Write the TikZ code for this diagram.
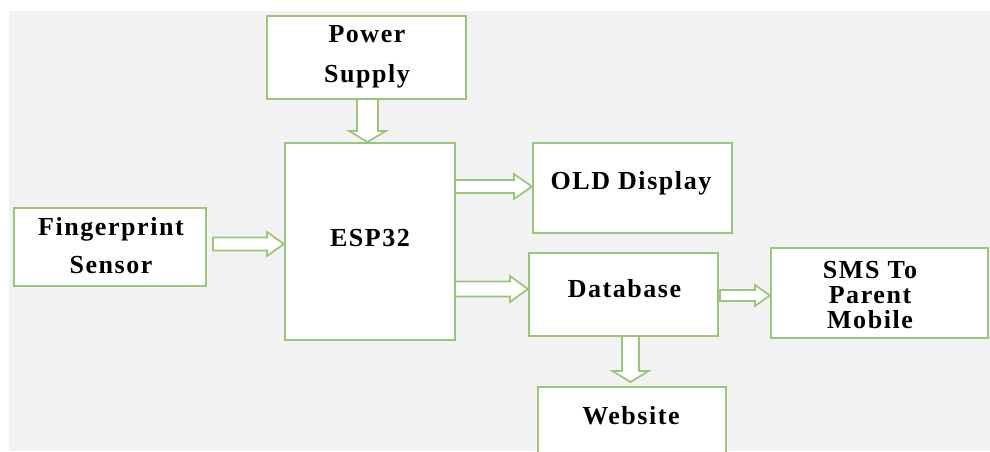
\documentclass[tikz,border=0pt]{standalone}
\usepackage{fontspec}
\setmainfont{Liberation Serif}[LetterSpace=6]
\usetikzlibrary{fit,calc}
\definecolor{bggray}{RGB}{242,242,242}
\definecolor{boxgreen}{RGB}{155,196,125}
\newcommand\blockarrow[5]{% #1 start, #2 tip, #3 shaft half, #4 head half, #5 head length (px)
  \coordinate (Hb) at ($(#2)!#5*0.75pt!(#1)$);
  \draw[barrow] ($(#1)!#3*0.75pt!90:(#2)$) -- ($(Hb)!#3*0.75pt!90:(#2)$)
    -- ($(Hb)!#4*0.75pt!90:(#2)$) -- (#2) -- ($(Hb)!#4*0.75pt!-90:(#2)$)
    -- ($(Hb)!#3*0.75pt!-90:(#2)$) -- ($(#1)!#3*0.75pt!-90:(#2)$) -- cycle;
}
\begin{document}
\begin{tikzpicture}[x=0.75pt,y=-0.75pt,
  box/.style={draw=boxgreen, line width=1.6pt, fill=white, inner sep=0pt},
  lbl/.style={font=\fontsize{19.5}{28}\selectfont\bfseries, align=center, inner sep=0pt},
  barrow/.style={draw=boxgreen, line width=1.3pt, fill=white, line join=miter}]
\useasboundingbox (0,0) rectangle (990,451);
\fill[white] (0,0) rectangle (990,451);
\fill[bggray] (9,11) rectangle (990,451);
% boxes
\node[box, fit={(267,16)(466,99)}] (ps) {};
\node[box, fit={(285,143)(455,340)}] (esp) {};
\node[box, fit={(14,208)(206,286)}] (fp) {};
\node[box, fit={(533,143)(732,233)}] (oled) {};
\node[box, fit={(529,253)(718,336)}] (db) {};
\node[box, fit={(771,248)(988,338)}] (sms) {};
\node[box, fit={(538,387)(726,458)}] (web) {};
% labels
\node[lbl, font=\fontsize{19.5}{30}\selectfont\bfseries] (tps) at (367,57) {Power\\Supply};
\node[lbl] (tesp) at (370,238) {ESP32};
\node[lbl, font=\fontsize{19.5}{28.5}\selectfont\bfseries] (tfp) at (111,246) {Fingerprint\\Sensor};
\node[lbl] (toled) at (631,183) {OLD Display};
\node[lbl] (tdb) at (624.5,289) {Database};
\node[lbl, font=\fontsize{19.5}{18.75}\selectfont\bfseries] (tsms) at (870,295) {SMS To\\Parent\\Mobile};
\node[lbl] (tweb) at (631,416) {Website};
% arrows
\coordinate (a1s) at (213,244);
\coordinate (a1e) at (a1s -| esp.west);
\blockarrow{a1s}{a1e}{6.5}{12}{17}
\coordinate (a2s) at (367.5,99);
\coordinate (a2e) at (a2s |- esp.north);
\blockarrow{a2s}{a2e}{10.5}{18.5}{11}
\coordinate (a3s) at (455,186.5);
\coordinate (a3e) at (a3s -| oled.west);
\blockarrow{a3s}{a3e}{6.5}{12.5}{18}
\coordinate (a4s) at (455,289);
\coordinate (a4e) at (a4s -| db.west);
\blockarrow{a4s}{a4e}{7.5}{13}{18}
\coordinate (a5s) at (720,295.5);
\coordinate (a5e) at (a5s -| sms.west);
\blockarrow{a5s}{a5e}{5.5}{10.5}{15}
\coordinate (a6s) at (630.5,336);
\coordinate (a6e) at (630.5,382);
\blockarrow{a6s}{a6e}{8.5}{18}{11}
\end{tikzpicture}
\end{document}
